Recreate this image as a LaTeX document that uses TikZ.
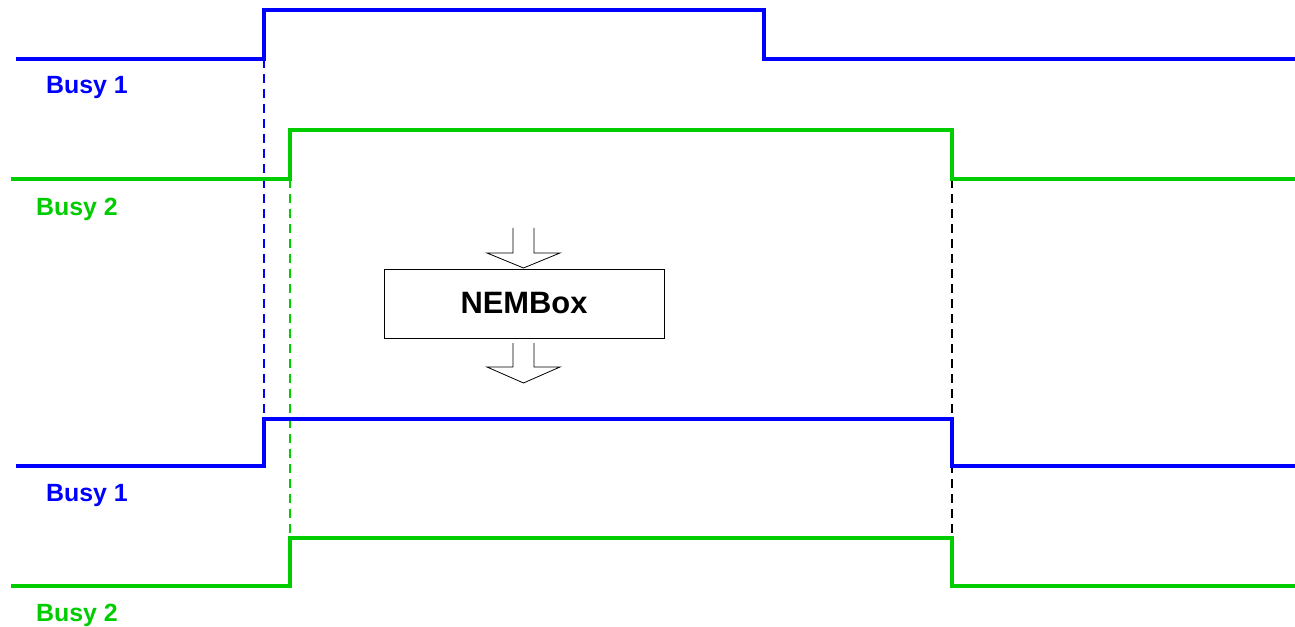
\documentclass[tikz,border=0pt]{standalone}
\usepackage{fontspec}
\setmainfont{Liberation Sans}
\begin{document}
\begin{tikzpicture}[x=1bp,y=-1bp,
  sigblue/.style={draw={rgb,255:red,0;green,0;blue,255},line width=4.3bp,line join=miter},
  siggreen/.style={draw={rgb,255:red,0;green,204;blue,0},line width=4.3bp,line join=miter},
  guide/.style={line width=1.6bp,dash pattern=on 9bp off 6bp},
  lbl/.style={font=\fontsize{25}{28}\selectfont\bfseries,inner sep=0pt,anchor=west},
  boxst/.style={draw=black,line width=0.8bp,minimum width=280bp,minimum height=69bp,inner sep=0pt,font=\fontsize{31}{36}\selectfont\bfseries},
  hollow/.style={draw=black,line width=0.8bp,fill=white}]
\useasboundingbox (0,0) rectangle (1295,627);
\definecolor{sblue}{RGB}{0,0,255}
\definecolor{sgreen}{RGB}{0,204,0}
% guide lines
\coordinate (ba) at (264,59);  \coordinate (bb) at (264,419);
\coordinate (ga) at (290,179); \coordinate (gb) at (290,538);
\coordinate (ka) at (952,179); \coordinate (kb) at (952,538);
\draw[guide,sblue] (ba) -- (bb);
\draw[guide,sgreen] (ga) -- (gb);
\draw[guide,black] (ka) -- (kb);
% waveforms
\draw[sigblue] (16,59) -- (264,59) -- (264,10) -- (764,10) -- (764,59) -- (1295,59);
\draw[siggreen] (11,179) -- (290,179) -- (290,130) -- (952,130) -- (952,179) -- (1295,179);
\draw[sigblue] (16,466) -- (264,466) -- (264,419) -- (952,419) -- (952,466) -- (1295,466);
\draw[siggreen] (11,586) -- (290,586) -- (290,538) -- (952,538) -- (952,586) -- (1295,586);
% labels
\node[lbl,text=sblue] (l1) at (46,88) {Busy 1};
\node[lbl,text=sgreen] (l2) at (36,209) {Busy 2};
\node[lbl,text=sblue] (l3) at (46,496) {Busy 1};
\node[lbl,text=sgreen] (l4) at (36,615) {Busy 2};
% box
\node[boxst] (nem) at (524,303.5) {NEMBox};
\draw[hollow] (513,228) -- (513,253) -- (487,253) -- (523.5,268) -- (560,253) -- (534,253) -- (534,228);
\draw[hollow] (513,343) -- (513,367) -- (487,367) -- (523.5,383) -- (560,367) -- (534,367) -- (534,343);
\end{tikzpicture}
\end{document}
